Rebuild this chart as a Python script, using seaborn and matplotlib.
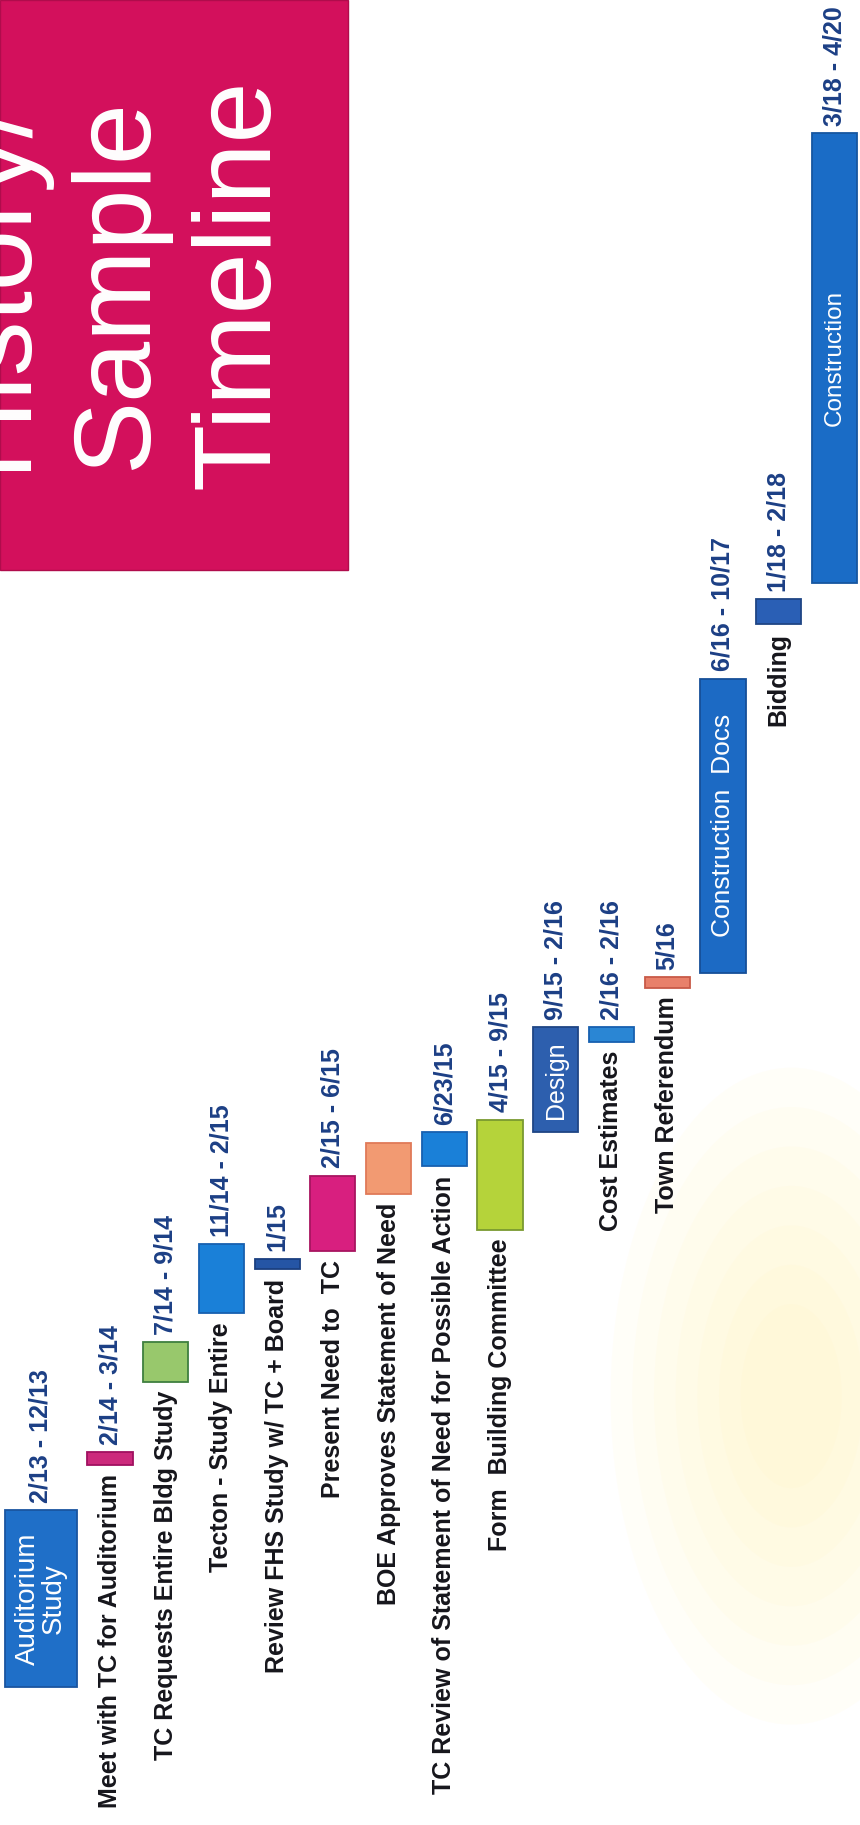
import matplotlib
matplotlib.use("Agg")
import matplotlib.pyplot as plt
from matplotlib.patches import Rectangle, Ellipse
import pandas as pd
import seaborn as sns

# ---------------- data ----------------
tasks = [
    "Auditorium Study", "Meet with TC for Auditorium", "TC Requests Entire Bldg Study",
    "Tecton - Study Entire", "Review FHS Study w/ TC + Board", "Present Need to  TC",
    "BOE Approves Statement of Need", "TC Review of Statement of Need for Possible Action",
    "Form  Building Committee", "Design", "Cost Estimates", "Town Referendum",
    "Construction Docs", "Bidding", "Construction",
]
# positions along the timeline, in months since Jan 2013 (as drawn)
starts = [1.0, 13.3, 17.9, 21.7, 24.1, 25.1, 28.3, 29.8, 26.3, 31.7, 36.7, 39.7, 40.5, 59.8, 62.1]
ends = [10.8, 14.0, 20.1, 25.5, 24.7, 29.3, 31.1, 31.7, 32.4, 37.5, 37.5, 40.3, 56.8, 61.2, 87.0]
date_labels = [
    "2/13 - 12/13", "2/14 - 3/14", "7/14 - 9/14", "11/14 - 2/15", "1/15", "2/15 - 6/15", "",
    "6/23/15", "4/15 - 9/15", "9/15 - 2/16", "2/16 - 2/16", "5/16", "6/16 - 10/17",
    "1/18 - 2/18", "3/18 - 4/20",
]
inside_labels = {
    "Auditorium Study": ("Auditorium\nStudy", 20),
    "Design": ("Design", 18),
    "Construction Docs": ("Construction  Docs", 19),
    "Construction": ("Construction", 17.5),
}
fills = ["#1f6fc8", "#cc2a7c", "#98c86c", "#1a80d8", "#2555a5", "#d81f7f", "#f29a72",
         "#1a80d8", "#b5d33a", "#2d5fae", "#2a86d4", "#e8806a", "#1c6ac4", "#2a5fb5", "#1a6cc6"]
edges = ["#1a55a0", "#a01060", "#3f7f3f", "#1760b0", "#1a3f80", "#a81560", "#e07a58",
         "#1760b0", "#7a9a30", "#1f4585", "#1760b0", "#c85a48", "#164f98", "#1f4585", "#1656a0"]

durations = [e - s for s, e in zip(starts, ends)]
df = pd.DataFrame({"task": tasks, "start": starts, "end": ends, "duration": durations})

# ---------------- figure ----------------
sns.set_theme(style="white")
plt.rcParams["font.family"] = ["Liberation Sans", "DejaVu Sans"]

fig = plt.figure(figsize=(8.6, 18.25), dpi=100)
fig.patch.set_facecolor("white")
ax = fig.add_axes([0, 0, 1, 1])
ax.patch.set_alpha(0)

sns.barplot(data=df, x="task", y="duration", order=tasks, width=0.81, color=fills[0],
            saturation=1, errorbar=None, ax=ax, bottom=starts, facecolor=fills,
            edgecolor=edges, linewidth=1.3)

ax.set_xlim(-0.975, 14.46)
ax.set_ylim(-6.64, 94.35)
ax.axis("off")

# the first bar is drawn wider in the original
p0 = ax.patches[0]
right = p0.get_x() + p0.get_width()
w0 = p0.get_width() * 1.6
p0.set_x(right - w0)
p0.set_width(w0)

name_color = "#16161c"
date_color = "#1c3f85"
for i, row in df.iterrows():
    patch = ax.patches[i]
    xc = patch.get_x() + patch.get_width() / 2
    if row["task"] in inside_labels:
        txt, fs = inside_labels[row["task"]]
        ax.text(xc, (row["start"] + row["end"]) / 2, txt, rotation=90, ha="center",
                va="center", color="white", fontsize=fs, linespacing=1.0,
                multialignment="center")
    else:
        ax.text(xc, row["start"] - 0.5, row["task"], rotation=90, ha="center", va="top",
                color=name_color, fontsize=18, fontweight="bold")
    if date_labels[i]:
        ax.text(xc, row["end"] + 0.4, date_labels[i], rotation=90, ha="center", va="bottom",
                color=date_color, fontsize=18, fontweight="bold")

# faint, soft yellow tint of the scanned page (bottom right)
for k in range(7):
    s = 1 - k * 0.12
    fig.patches.append(Ellipse((0.92, 0.235), 0.42 * s, 0.36 * s, transform=fig.transFigure,
                               facecolor="#fff4a8", alpha=0.07, edgecolor="none", zorder=-5))

# title block
fig.patches.append(Rectangle((0, 1 - 570 / 1825), 348 / 860, 570 / 1825,
                             transform=fig.transFigure, facecolor="#d3105c",
                             edgecolor="#b00c4c", linewidth=1.0, zorder=1))
fig.text(0.137, 1 - 284 / 1825, "History/\nSample\nTimeline", rotation=90, ha="center",
         va="center", multialignment="center", color="white", fontsize=79,
         linespacing=1.26, zorder=2)

fig.savefig("out.png", dpi=100, facecolor="white")
